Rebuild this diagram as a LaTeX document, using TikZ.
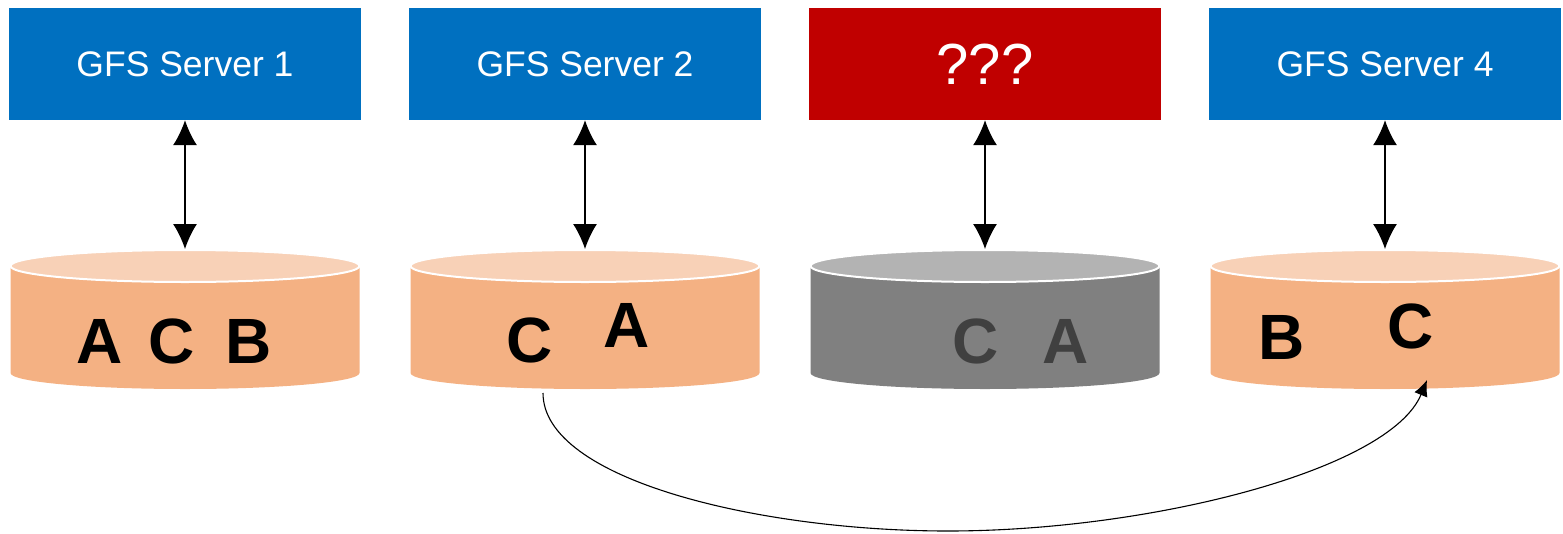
\documentclass[tikz,border=0pt]{standalone}
\usepackage{fontspec}
\setmainfont{Liberation Sans}
\usetikzlibrary{arrows.meta}
\definecolor{srvblue}{HTML}{0070C0}
\definecolor{srvred}{HTML}{C00000}
\definecolor{cyltop}{HTML}{F8D1B7}
\definecolor{cylbody}{HTML}{F4B183}
\definecolor{greytop}{HTML}{B3B3B3}
\definecolor{greybody}{HTML}{808080}
\definecolor{greyletter}{HTML}{404040}
\tikzset{
  server/.style={rectangle, fill=#1, draw=none, minimum width=352pt, minimum height=112pt, inner sep=0pt,
    text=white, font=\fontsize{35.5}{35.5}\selectfont},
  letter/.style={anchor=base, inner sep=0pt, font=\fontsize{64}{64}\selectfont\bfseries},
  link/.style={{Latex[length=25pt,width=24pt]}-{Latex[length=25pt,width=24pt]}, line width=1.3pt},
  move/.style={-{Latex[length=16pt,width=14pt]}, line width=1.1pt},
}
\newcommand{\mycyl}[3]{% center x, top colour, body colour
  \fill[#3] (#1-174.5,266) -- (#1-174.5,373) arc[start angle=180,end angle=0,x radius=174.5,y radius=16]
     -- (#1+174.5,266) -- cycle;
  \filldraw[fill=#2, draw=white, line width=2pt] (#1,266) ellipse[x radius=174.5, y radius=16];
}
\begin{document}
\begin{tikzpicture}[x=1pt,y=-1pt]
\useasboundingbox (0,0) rectangle (1563,533);
\node[server=srvblue] (s1) at (185,64) {GFS Server 1};
\node[server=srvblue] (s2) at (585,64) {GFS Server 2};
\node[server=srvred, font=\fontsize{58}{58}\selectfont] (s3) at (985,64) {???};
\node[server=srvblue] (s4) at (1385,64) {GFS Server 4};
\mycyl{185}{cyltop}{cylbody}
\mycyl{585}{cyltop}{cylbody}
\mycyl{985}{greytop}{greybody}
\mycyl{1385}{cyltop}{cylbody}
\coordinate (d1) at (185,249);
\coordinate (d2) at (585,249);
\coordinate (d3) at (985,249);
\coordinate (d4) at (1385,249);
\draw[link] (s1.south) -- (d1);
\draw[link] (s2.south) -- (d2);
\draw[link] (s3.south) -- (d3);
\draw[link] (s4.south) -- (d4);
\node[letter] (a1) at (100,363) {A};
\node[letter] (c1) at (172,363) {C};
\node[letter] (b1) at (249,363) {B};
\node[letter] (c2) at (530,362) {C};
\node[letter] (a2) at (627,347) {A};
\node[letter, text=greyletter] (c3) at (976,363) {C};
\node[letter, text=greyletter] (a3) at (1066,363) {A};
\node[letter] (b4) at (1282,359) {B};
\node[letter] (c4) at (1411,348) {C};
\coordinate (from) at (543,393);
\coordinate (low) at (948,531);
\coordinate (to) at (1427,380);
\draw[move] (from) .. controls (543,480) and (760,531) .. (low)
  .. controls (1150,531) and (1390,470) .. (to);
\end{tikzpicture}
\end{document}
